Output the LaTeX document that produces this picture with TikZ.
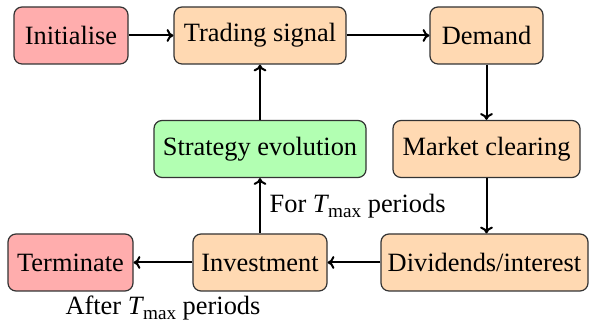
\documentclass[tikz,border=0pt]{standalone}
\usepackage{fontspec}
\setmainfont{Liberation Serif}
\usetikzlibrary{arrows.meta}
\newcommand{\Tmax}{{\itshape T}\kern0.02em\raisebox{-0.45ex}{\fontsize{9.6}{10}\selectfont max}}
\begin{document}
\begin{tikzpicture}[x=0.5pt, y=-0.5pt,
  font=\fontsize{13.2}{15}\selectfont,
  box/.style={draw=black!80, line width=0.6pt, rounded corners=4pt,
    font=\fontsize{13.2}{15}\selectfont\itshape\upshape,
    minimum height=28.5pt},
  endbox/.style={box, fill=red!32},
  workbox/.style={box, fill=orange!30},
  evolbox/.style={box, fill=green!30},
  flow/.style={line width=1pt, -{To[length=3.4pt, width=6.4pt]}}]
  \useasboundingbox (0,0) rectangle (590,324);

  % process stages
  \node[endbox,  minimum width=57pt]   (init)   at (71,35.5)    {Initialise};
  \node[workbox, minimum width=86pt]   (signal) at (260,35.5)   {Trading signal};
  \node[workbox, minimum width=56.5pt] (demand) at (486.5,35.5) {Demand};
  \node[workbox, minimum width=93.5pt] (market) at (486.5,149)  {Market clearing};
  \node[evolbox, minimum width=106pt]  (evol)   at (260,149)    {Strategy evolution};
  \node[workbox, minimum width=103.5pt] (divid) at (484.5,262.5) {Dividends/interest};
  \node[workbox, minimum width=67pt]   (invest) at (260,262.5)  {Investment};
  \node[endbox,  minimum width=62.5pt] (term)   at (70.5,262.5) {Terminate};

  % connectors
  \draw[flow] (init) -- (signal);
  \draw[flow] (signal) -- (demand);
  \draw[flow] (demand) -- (market);
  \draw[flow] (market.south) -- (market.south |- divid.north);
  \draw[flow] (divid) -- (invest);
  \draw[flow] (invest) -- (term);
  \draw[flow] (invest) -- node[right, xshift=1pt] (forlbl) {For \Tmax{} periods} (evol);
  \draw[flow] (evol) -- (signal);

  \node (afterlbl) at (163,308) {After \Tmax{} periods};
\end{tikzpicture}
\end{document}
